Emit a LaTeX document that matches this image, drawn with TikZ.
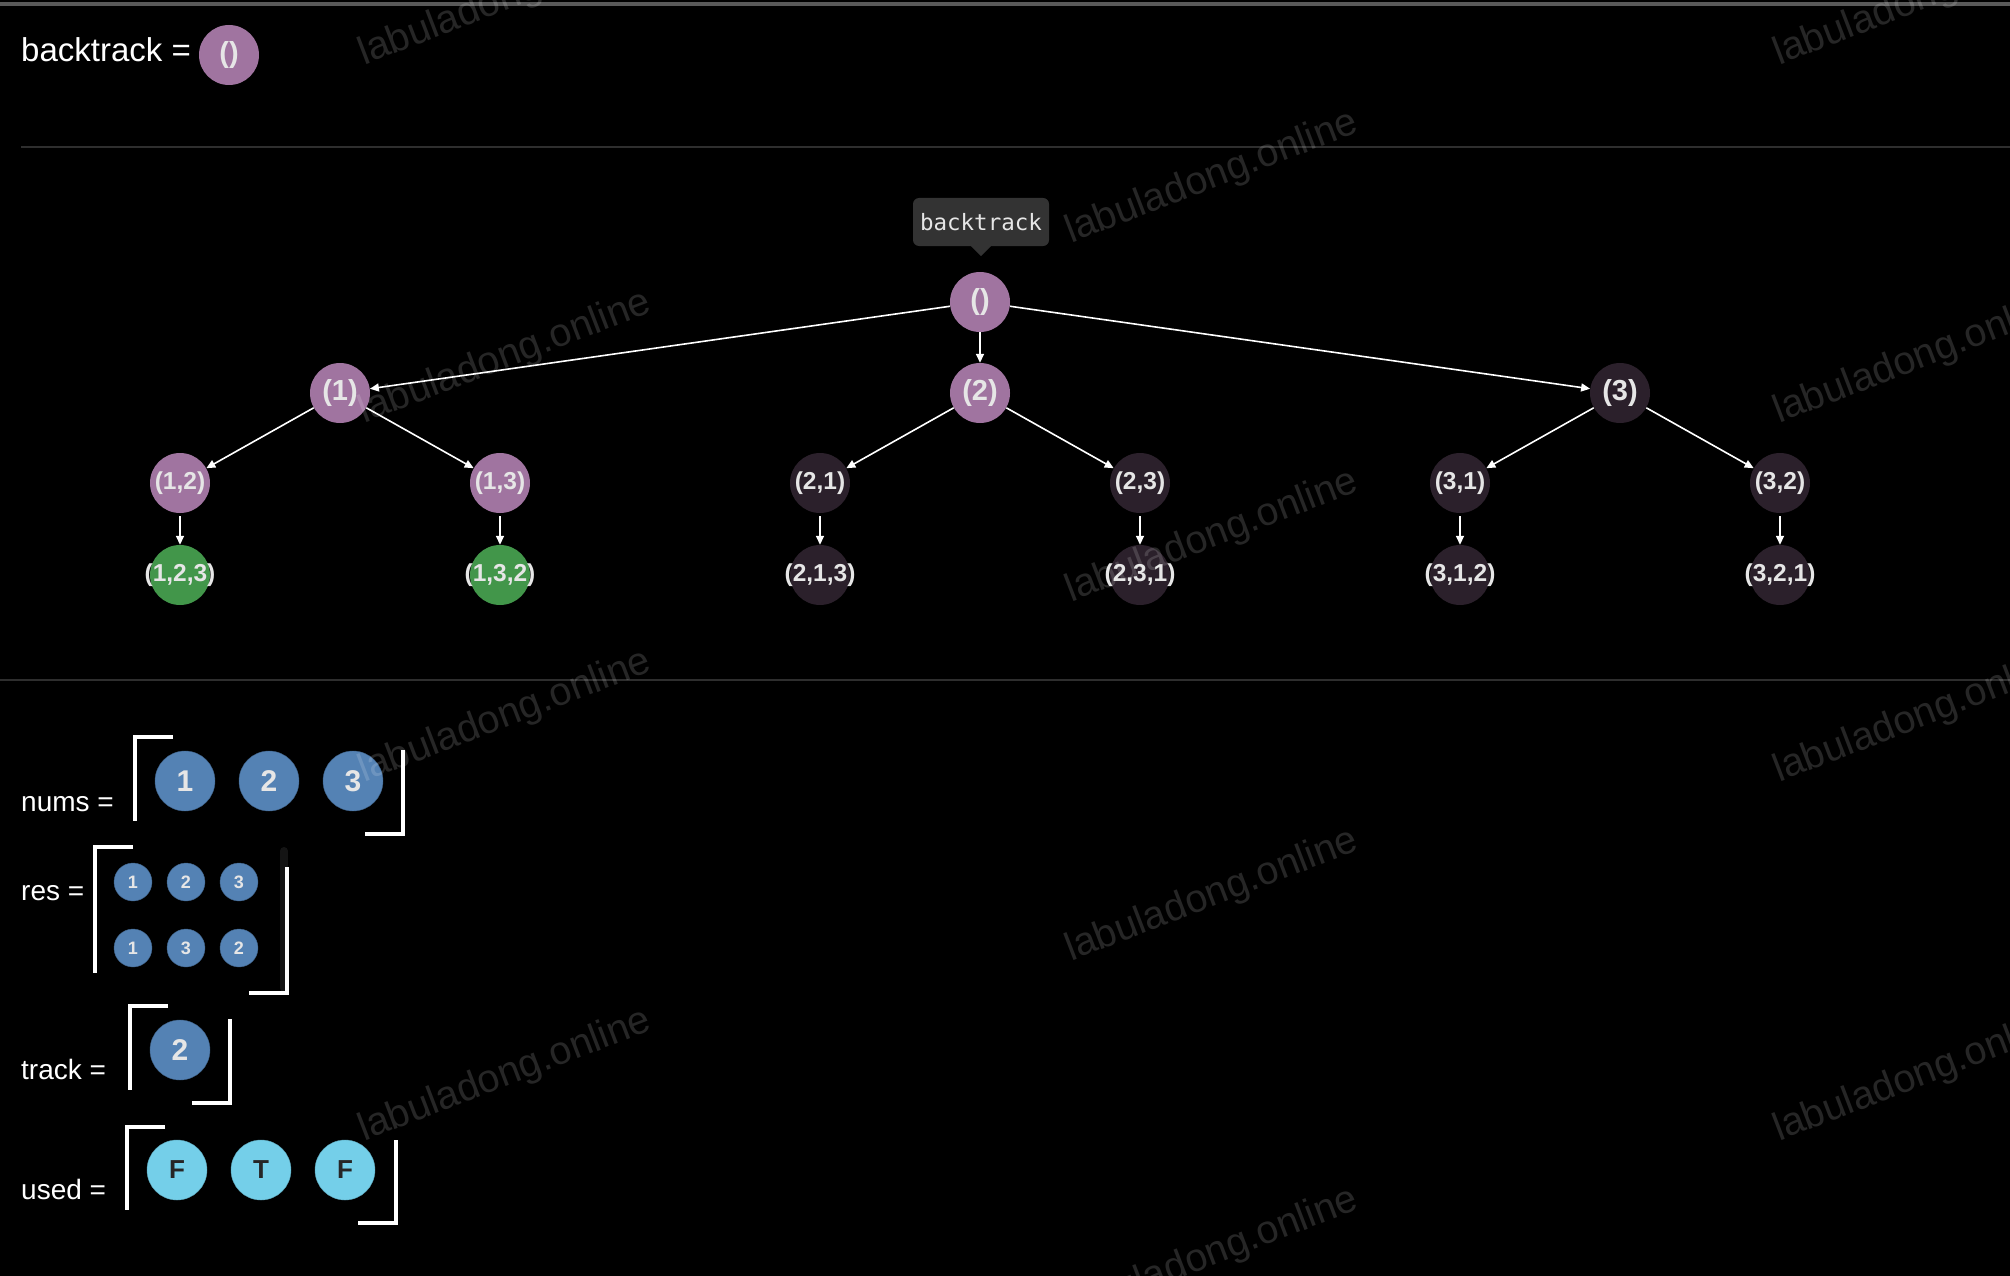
\documentclass[tikz,border=0pt]{standalone}
\usepackage{fontspec}
\setmainfont{Liberation Sans}
\setmonofont{DejaVu Sans Mono}
\usetikzlibrary{arrows.meta}
\definecolor{pur}{HTML}{A074A0}
\definecolor{drk}{HTML}{2B202B}
\definecolor{grn}{HTML}{42964A}
\definecolor{blu}{HTML}{5482B4}
\definecolor{cyn}{HTML}{74CFE9}
\definecolor{lbl}{HTML}{E6E6E6}
\definecolor{tipc}{HTML}{333333}
\definecolor{sep}{HTML}{2E2E2E}
\begin{document}
\begin{tikzpicture}[x=1pt,y=-1pt,
	nd/.style={circle,minimum size=60pt,inner sep=0pt,text=lbl,font=\bfseries\fontsize{24.5}{24.5}\selectfont},
	big/.style={font=\bfseries\fontsize{29}{29}\selectfont},
	ar/.style={white,line width=1.6pt,-{Triangle[length=9pt,width=8pt]}},
	brk/.style={white,line width=3.5pt},
	lab/.style={anchor=base west,inner sep=0pt,text=white,font=\fontsize{28}{28}\selectfont}]
	\fill[black] (0,0) rectangle (2010,1276);
	\useasboundingbox (0,0) rectangle (2010,1276);
	\draw[line width=4pt,color=gray!70!black] (0,4) -- (2010,4);
	\draw[line width=1.5pt,color=sep] (21,147) -- (2010,147) (0,680) -- (2010,680);
	% current call
	\node[lab,font=\fontsize{33}{33}\selectfont] (btl) at (21,62) {backtrack =};
	\node[nd,big,fill=pur] (cur) at (229,55) {()};
	% recursion tree
	\node[fill=tipc,rounded corners=6pt,text=lbl,font=\ttfamily\fontsize{22.5}{22.5}\selectfont,minimum width=136pt,minimum height=48pt] (tip) at (981,222) {backtrack};
	\fill[tipc] ([xshift=-10pt]tip.south) -- ([xshift=10pt]tip.south) -- ([yshift=-10pt]tip.south) -- cycle;
	\node[nd,big,fill=pur] (r) at (980,302) {()};
	\node[nd,big,fill=pur] (n1) at (340,393) {(1)};
	\node[nd,big,fill=pur] (n2) at (980,393) {(2)};
	\node[nd,big,fill=drk] (n3) at (1620,393) {(3)};
	\foreach \k in {1,2,3} \draw[ar] (r) -- (n\k);
	\foreach \a/\b/\x/\c/\d in {1/2/180/pur/grn,1/3/500/pur/grn,2/1/820/drk/drk,2/3/1140/drk/drk,3/1/1460/drk/drk,3/2/1780/drk/drk}{
		\pgfmathtruncatemacro\e{6-\a-\b}
		\node[nd,fill=\c] (n\a\b) at (\x,483) {(\a,\b)};
		\node[nd,fill=\d] (n\a\b\e) at (\x,575) {\makebox[0pt]{(\a,\b,\e)}};
		\draw[ar] (n\a) -- (n\a\b);
		\draw[ar,shorten <=3pt] (n\a\b) -- (n\a\b\e);
	}
	% variables
	\node[lab] (numsl) at (21,811) {nums =};
	\node[lab] (resl) at (21,900) {res =};
	\node[lab] (trackl) at (21,1079) {track =};
	\node[lab] (usedl) at (21,1199) {used =};
	\draw[line width=8pt,line cap=round,color=black!92!white] (284,851) -- (284,988);
	\foreach \lx/\ly/\rx/\ry/\h in {135/737/403/750/84,95/847/287/867/126,130/1006/230/1019/84,127/1127/396/1140/83}
	\draw[brk] (\lx+38,\ly) -- (\lx,\ly) -- (\lx,\ly+\h) (\rx-38,\ry+\h) -- (\rx,\ry+\h) -- (\rx,\ry);
	\foreach \v [count=\i] in {1,2,3}
	\node[nd,fill=blu,draw=blu!75!black,font=\bfseries\fontsize{30}{30}\selectfont] (num\i) at (101+84*\i,781) {\v};
	\foreach \v/\j/\y [count=\i] in {1/1/882,2/2/882,3/3/882,1/1/948,3/2/948,2/3/948}
	\node[nd,minimum size=38pt,fill=blu,draw=blu!75!black,font=\bfseries\fontsize{18}{18}\selectfont] (res\i) at (80+53*\j,\y) {\v};
	\node[nd,fill=blu,draw=blu!75!black,font=\bfseries\fontsize{30}{30}\selectfont] (trk1) at (180,1050) {2};
	\foreach \v [count=\i] in {F,T,F}
	\node[nd,fill=cyn,draw=cyn!80!black,text=black!85,font=\bfseries\fontsize{26}{26}\selectfont] (use\i) at (93+84*\i,1170) {\v};
	% watermark
	\foreach \x/\y [count=\i] in {505/0,505/358,505/717,505/1076,1212/178,1212/537,1212/896,1212/1255,1920/0,1920/358,1920/717,1920/1076}
	\node[rotate=21,text=white,text opacity=0.15,font=\fontsize{39.5}{39.5}\selectfont] (wm\i) at (\x,\y) {labuladong.online};
\end{tikzpicture}
\end{document}
